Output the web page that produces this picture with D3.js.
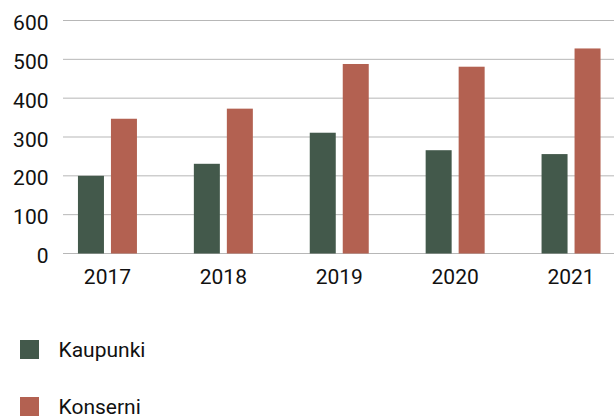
<!DOCTYPE html>
<html>
<head>
<meta charset="utf-8">
<script src="https://cdn.jsdelivr.net/npm/d3@7"></script>
<style>
  body { margin: 0; background: #fff; }
  svg { display: block; font-family: Roboto, sans-serif; }
</style>
</head>
<body>
<div id="chart"></div>
<script>
// Chart data
var years = ["2017", "2018", "2019", "2020", "2021"];
var seriesNames = ["Kaupunki", "Konserni"];
var kaupunki = [200, 231, 311, 266, 256];
var konserni = [347, 373, 488, 481, 528];
var yTicks = [0, 100, 200, 300, 400, 500, 600];

var colors = { "Kaupunki": "#43594b", "Konserni": "#b36151" };

var width = 614, height = 417;
var svg = d3.select("#chart").append("svg")
    .attr("width", width).attr("height", height);

var rows = years.map(function (y, i) {
    return { year: y, Kaupunki: kaupunki[i], Konserni: konserni[i] };
});

// Scales
var x0 = d3.scaleBand().domain(years)
    .range([49.5, 629]).paddingInner(0.491).paddingOuter(0.2455);
var x1 = d3.scaleBand().domain(seriesNames)
    .range([0, x0.bandwidth()]).paddingInner(0.212);
var y = d3.scaleLinear().domain([0, 600]).range([253.5, 20.5]);

// Gridlines
svg.append("g").selectAll("line")
    .data(yTicks)
    .join("line")
    .attr("x1", 63).attr("x2", width)
    .attr("y1", function (d) { return y(d); })
    .attr("y2", function (d) { return y(d); })
    .attr("stroke", "#b7b7b7")
    .attr("stroke-width", 1);

// Y axis labels
svg.append("g").selectAll("text")
    .data(yTicks)
    .join("text")
    .attr("x", 48.5).attr("y", function (d) { return y(d) + 9.5; })
    .attr("text-anchor", "end")
    .attr("font-size", "21px")
    .attr("fill", "#111")
    .text(function (d) { return d; });

// Bars
var groups = svg.append("g").selectAll("g")
    .data(rows)
    .join("g")
    .attr("transform", function (d) { return "translate(" + x0(d.year) + ",0)"; });

groups.selectAll("rect")
    .data(function (d) {
        return seriesNames.map(function (s) { return { key: s, value: d[s] }; });
    })
    .join("rect")
    .attr("x", function (d) { return x1(d.key); })
    .attr("width", x1.bandwidth())
    .attr("y", function (d) { return y(d.value); })
    .attr("height", function (d) { return y(0) - y(d.value); })
    .attr("fill", function (d) { return colors[d.key]; });

// X axis labels
svg.append("g").selectAll("text")
    .data(years)
    .join("text")
    .attr("x", function (d) { return x0(d) + x0.bandwidth() / 2; })
    .attr("y", 284)
    .attr("text-anchor", "middle")
    .attr("font-size", "21px")
    .attr("fill", "#111")
    .text(function (d) { return d; });

// Legend
var legend = svg.append("g").selectAll("g")
    .data(seriesNames)
    .join("g")
    .attr("transform", function (d, i) { return "translate(20," + (340 + i * 57) + ")"; });

legend.append("rect")
    .attr("width", 19).attr("height", 19)
    .attr("fill", function (d) { return colors[d]; });

legend.append("text")
    .attr("x", 38.5).attr("y", 17)
    .attr("font-size", "21px")
    .attr("fill", "#111")
    .text(function (d) { return d; });
</script>
</body>
</html>
